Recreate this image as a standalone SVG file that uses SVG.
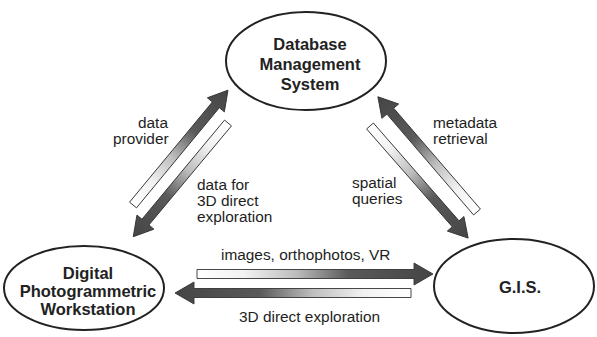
<svg xmlns="http://www.w3.org/2000/svg" width="597" height="337" viewBox="0 0 597 337">
  <style>
    .node { fill: #ffffff; stroke: #222222; stroke-width: 2; }
    .title { font-family: "Liberation Sans", Arial, sans-serif; font-weight: bold; font-size: 16.5px; fill: #222222; text-anchor: middle; }
    .label { font-family: "Liberation Sans", Arial, sans-serif; font-size: 15.4px; fill: #1e1e1e; }
    .flow { fill: url(#flowFill); stroke: #333333; stroke-width: 0.9; stroke-linejoin: miter; }
  </style>
  <defs>
    <!-- shaft shading: pale at the tail, dark toward the head -->
    <linearGradient id="flowFill" x1="0" y1="0" x2="1" y2="0">
      <stop offset="0" stop-color="#ffffff"/>
      <stop offset="0.2" stop-color="#f2f2f2"/>
      <stop offset="0.42" stop-color="#bdbdbd"/>
      <stop offset="0.64" stop-color="#5a5a5a"/>
      <stop offset="1" stop-color="#454545"/>
    </linearGradient>
  </defs>
  <rect width="597" height="337" fill="#ffffff"/>

  <!-- connectors: each arrow is drawn from its tail (x=0) to its tip along +x -->
  <g id="connectors">
    <!-- data provider: workstation -> database -->
    <path class="flow" transform="translate(133,205) rotate(-50.4)" d="M0,-4.5 H130 V-11 L149,0 L130,11 V4.5 H0 Z"/>
    <!-- data for 3D direct exploration: database -> workstation -->
    <path class="flow" transform="translate(228,123) rotate(129.8)" d="M0,-4.5 H129 V-11 L148,0 L129,11 V4.5 H0 Z"/>
    <!-- metadata retrieval: GIS -> database -->
    <path class="flow" transform="translate(477,212) rotate(-130.7)" d="M0,-4.5 H133 V-11 L152,0 L133,11 V4.5 H0 Z"/>
    <!-- spatial queries: database -> GIS -->
    <path class="flow" transform="translate(370,126) rotate(48.8)" d="M0,-4.5 H130 V-11 L149,0 L130,11 V4.5 H0 Z"/>
    <!-- images, orthophotos, VR: workstation -> GIS -->
    <path class="flow" transform="translate(197,274)" d="M0,-4.5 H217 V-11 L236,0 L217,11 V4.5 H0 Z"/>
    <!-- 3D direct exploration: GIS -> workstation -->
    <path class="flow" transform="translate(411,293) rotate(180)" d="M0,-4.5 H217 V-11 L236,0 L217,11 V4.5 H0 Z"/>
  </g>

  <g id="labels">
    <text class="label" x="138" y="128">data</text>
    <text class="label" x="113" y="144">provider</text>
    <text class="label" x="197" y="190">data for</text>
    <text class="label" x="197" y="206">3D direct</text>
    <text class="label" x="197" y="222">exploration</text>
    <text class="label" x="433" y="128">metadata</text>
    <text class="label" x="433" y="144">retrieval</text>
    <text class="label" x="352" y="188">spatial</text>
    <text class="label" x="352" y="204">queries</text>
    <text class="label" x="221" y="260">images, orthophotos, VR</text>
    <text class="label" x="239" y="322">3D direct exploration</text>
  </g>

  <g id="database">
    <ellipse class="node" cx="306" cy="61" rx="80" ry="49"/>
    <text class="title" x="310" y="50">Database</text>
    <text class="title" x="310" y="70">Management</text>
    <text class="title" x="310" y="90">System</text>
  </g>

  <g id="workstation">
    <ellipse class="node" cx="84" cy="288" rx="80" ry="42"/>
    <text class="title" x="88" y="279">Digital</text>
    <text class="title" x="88" y="297">Photogrammetric</text>
    <text class="title" x="88" y="315">Workstation</text>
  </g>

  <g id="gis">
    <ellipse class="node" cx="514" cy="286" rx="80" ry="47"/>
    <text class="title" x="520" y="293">G.I.S.</text>
  </g>
</svg>
